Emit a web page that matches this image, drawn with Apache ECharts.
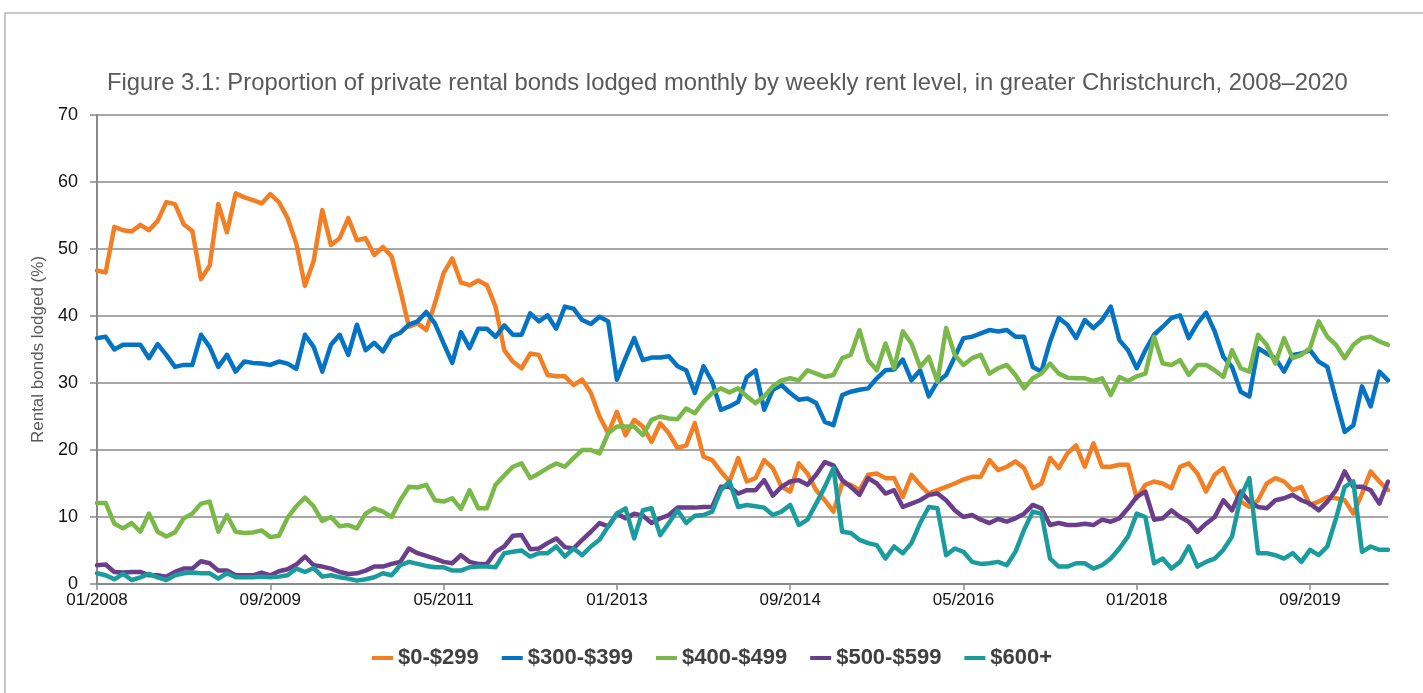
<!DOCTYPE html>
<html>
<head>
<meta charset="utf-8" />
<title>Figure 3.1</title>
<script src="https://cdn.jsdelivr.net/npm/echarts@6/dist/echarts.min.js"></script>
<style>
  html, body { margin: 0; padding: 0; background: #fff; }
  #frame {
    position: absolute; left: 4px; top: 12px; width: 1440px; height: 700px;
    border-left: 2px solid #c8c8c8; border-top: 2px solid #c8c8c8;
  }
  #chart { position: absolute; left: 0; top: 0; width: 1423px; height: 693px; }
</style>
</head>
<body>
<div id="frame"></div>
<div id="chart"></div>
<script>
// months 01/2008 .. 06/2020
var months = [];
for (var y = 2008; y <= 2020; y++) {
  for (var m = 1; m <= 12; m++) {
    if (y === 2020 && m > 6) break;
    months.push((m < 10 ? "0" + m : "" + m) + "/" + y);
  }
}

var seriesNames = ["$0-$299", "$300-$399", "$400-$499", "$500-$599", "$600+"];
var colors = ["#F37F24", "#0473C3", "#7BB84A", "#6B3E8C", "#1A9C9E"];

var rent0to299 = [
  46.8, 46.5, 53.3, 52.8, 52.6, 53.6, 52.8, 54.2, 57.0, 56.7, 53.7, 52.7, 45.5, 47.5, 56.7, 52.5, 58.3, 57.7, 57.3, 56.8,
  58.2, 57.0, 54.6, 50.8, 44.5, 48.2, 55.8, 50.6, 51.6, 54.6, 51.3, 51.6, 49.1, 50.3, 48.9, 43.9, 38.4, 38.9, 37.9, 41.9,
  46.4, 48.6, 45.0, 44.6, 45.3, 44.6, 41.4, 34.9, 33.2, 32.2, 34.4, 34.2, 31.2, 31.0, 31.0, 29.7, 30.5, 28.5, 25.0, 22.5,
  25.7, 22.2, 24.5, 23.5, 21.2, 24.0, 22.5, 20.3, 20.7, 24.0, 19.0, 18.5, 16.8, 15.3, 18.8, 15.3, 15.8, 18.5, 17.3, 14.5,
  13.8, 18.0, 16.5, 14.0, 12.5, 10.8, 15.0, 14.8, 14.0, 16.3, 16.5, 15.8, 15.8, 13.0, 16.3, 14.8, 13.5, 14.0, 14.5, 15.0,
  15.6, 16.0, 16.0, 18.5, 17.0, 17.5, 18.3, 17.3, 14.3, 15.0, 18.8, 17.3, 19.5, 20.7, 17.5, 21.0, 17.5, 17.5, 17.8, 17.8,
  12.8, 14.8, 15.3, 15.0, 14.3, 17.5, 18.0, 16.5, 13.8, 16.3, 17.3, 14.5, 12.3, 11.5, 12.5, 15.0, 15.8, 15.3, 14.0, 14.5,
  11.8, 12.3, 13.0, 12.8, 12.5, 10.5, 13.5, 16.8, 15.3, 14.0
];
var rent300to399 = [
  36.7, 36.9, 35.0, 35.7, 35.7, 35.7, 33.7, 35.8, 34.2, 32.4, 32.7, 32.7, 37.2, 35.4, 32.4, 34.2, 31.7, 33.2, 33.0, 32.9,
  32.7, 33.2, 32.9, 32.1, 37.2, 35.4, 31.7, 35.7, 37.2, 34.2, 38.7, 34.9, 36.0, 34.7, 36.9, 37.5, 38.7, 39.2, 40.6, 38.9,
  35.9, 33.0, 37.6, 35.2, 38.1, 38.1, 36.9, 38.6, 37.2, 37.2, 40.4, 39.2, 40.1, 38.1, 41.4, 41.1, 39.4, 38.8, 39.9, 39.2,
  30.5, 33.7, 36.7, 33.4, 33.8, 33.8, 34.0, 32.5, 31.9, 28.5, 32.5, 30.2, 26.0, 26.5, 27.2, 30.9, 31.9, 26.0, 29.0, 29.7,
  28.5, 27.5, 27.7, 27.0, 24.2, 23.7, 28.2, 28.7, 29.0, 29.2, 30.7, 31.9, 32.0, 33.5, 30.4, 31.9, 28.0, 30.2, 31.2, 33.9,
  36.7, 36.9, 37.4, 37.9, 37.7, 37.9, 36.9, 36.9, 32.4, 31.7, 36.2, 39.7, 38.7, 36.7, 39.4, 38.2, 39.4, 41.4, 36.4, 34.9,
  32.2, 34.9, 37.2, 38.4, 39.7, 40.1, 36.7, 38.9, 40.5, 37.7, 33.9, 32.4, 28.7, 28.0, 35.2, 34.4, 33.7, 31.7, 34.2, 34.4,
  34.9, 33.2, 32.4, 27.5, 22.7, 23.7, 29.5, 26.5, 31.7, 30.4
];
var rent400to499 = [
  12.1, 12.1, 9.0, 8.3, 9.1, 7.8, 10.5, 7.8, 7.1, 7.7, 9.8, 10.5, 12.0, 12.3, 7.8, 10.3, 7.8, 7.6, 7.7, 8.0,
  7.0, 7.2, 9.9, 11.6, 12.9, 11.6, 9.4, 10.0, 8.6, 8.8, 8.3, 10.5, 11.3, 10.8, 10.0, 12.5, 14.5, 14.4, 14.8, 12.5,
  12.3, 12.8, 11.2, 14.0, 11.3, 11.3, 14.8, 16.2, 17.5, 18.0, 15.8, 16.5, 17.3, 18.0, 17.5, 18.8, 20.0, 20.0, 19.5, 22.5,
  23.5, 23.5, 23.5, 22.2, 24.5, 25.0, 24.7, 24.6, 26.2, 25.5, 27.2, 28.5, 29.2, 28.6, 29.2, 28.0, 27.0, 28.0, 29.5, 30.4,
  30.7, 30.4, 31.9, 31.4, 30.9, 31.2, 33.7, 34.2, 37.9, 33.4, 31.9, 35.9, 32.2, 37.7, 35.9, 32.4, 33.9, 30.2, 38.2, 34.2,
  32.7, 33.7, 34.2, 31.4, 32.2, 32.7, 31.2, 29.2, 30.7, 31.4, 32.9, 31.4, 30.8, 30.7, 30.7, 30.3, 30.7, 28.2, 30.9, 30.3,
  31.0, 31.4, 36.9, 32.9, 32.7, 33.4, 31.2, 32.7, 32.7, 31.9, 30.9, 34.9, 32.2, 31.7, 37.2, 35.7, 32.9, 36.7, 33.7, 34.2,
  35.2, 39.2, 36.9, 35.7, 33.7, 35.7, 36.7, 36.9, 36.2, 35.7
];
var rent500to599 = [
  2.8, 2.9, 1.8, 1.7, 1.8, 1.8, 1.3, 1.3, 1.1, 1.8, 2.3, 2.3, 3.4, 3.1, 2.0, 2.0, 1.3, 1.3, 1.3, 1.7,
  1.3, 1.9, 2.2, 2.9, 4.1, 2.8, 2.6, 2.3, 1.8, 1.5, 1.6, 2.0, 2.6, 2.6, 3.0, 3.3, 5.3, 4.6, 4.2, 3.8,
  3.3, 3.1, 4.3, 3.3, 3.0, 3.0, 4.8, 5.6, 7.2, 7.3, 5.2, 5.3, 6.1, 6.8, 5.5, 5.3, 6.6, 7.8, 9.1, 8.6,
  10.5, 9.8, 10.5, 10.2, 9.1, 9.8, 10.3, 11.4, 11.4, 11.4, 11.5, 11.5, 14.5, 14.5, 13.5, 14.0, 14.0, 15.5, 13.2, 14.5,
  15.3, 15.5, 14.8, 16.3, 18.2, 17.7, 15.5, 14.5, 13.3, 15.8, 15.0, 13.5, 14.0, 11.5, 12.0, 12.5, 13.3, 13.5, 12.5, 11.0,
  10.0, 10.3, 9.6, 9.1, 9.7, 9.3, 9.8, 10.5, 11.8, 11.3, 8.8, 9.1, 8.8, 8.8, 9.0, 8.8, 9.6, 9.3, 9.8, 11.3,
  13.0, 13.8, 9.6, 9.8, 11.0, 10.0, 9.3, 7.8, 9.0, 10.0, 12.5, 11.0, 13.8, 12.3, 11.5, 11.3, 12.5, 12.8, 13.3, 12.5,
  12.0, 11.0, 12.3, 14.0, 16.8, 14.5, 14.5, 14.0, 12.0, 15.3
];
var rent600plus = [
  1.6, 1.3, 0.7, 1.5, 0.6, 1.0, 1.5, 1.0, 0.6, 1.3, 1.6, 1.7, 1.6, 1.6, 0.8, 1.6, 1.0, 1.0, 1.0, 1.1,
  1.0, 1.1, 1.3, 2.3, 1.8, 2.4, 1.1, 1.3, 1.0, 0.8, 0.5, 0.7, 1.0, 1.6, 1.3, 2.8, 3.3, 3.0, 2.7, 2.5,
  2.5, 2.0, 2.0, 2.5, 2.6, 2.6, 2.5, 4.6, 4.8, 5.0, 4.1, 4.6, 4.6, 5.6, 4.1, 5.3, 4.3, 5.6, 6.6, 8.6,
  10.5, 11.3, 6.8, 11.0, 11.3, 7.3, 9.1, 11.0, 9.1, 10.2, 10.3, 10.8, 14.0, 15.3, 11.5, 11.8, 11.6, 11.4, 10.3, 10.8,
  11.8, 8.8, 9.6, 12.0, 14.5, 17.3, 7.8, 7.6, 6.6, 6.1, 5.8, 3.8, 5.6, 4.6, 6.1, 9.1, 11.5, 11.3, 4.3, 5.3,
  4.8, 3.3, 3.0, 3.1, 3.3, 2.8, 4.8, 8.1, 10.8, 10.5, 3.8, 2.6, 2.6, 3.1, 3.1, 2.3, 2.8, 3.8, 5.3, 7.1,
  10.5, 10.0, 3.1, 3.8, 2.3, 3.3, 5.6, 2.6, 3.3, 3.8, 5.1, 7.1, 13.0, 15.8, 4.6, 4.6, 4.3, 3.8, 4.6, 3.3,
  5.1, 4.3, 5.6, 9.8, 14.5, 15.3, 4.8, 5.6, 5.1, 5.1
];

var yTicks = { min: 0, max: 70, interval: 10 };

var chart = echarts.init(document.getElementById("chart"), null, { renderer: "canvas" });

var allData = [rent0to299, rent300to399, rent400to499, rent500to599, rent600plus];

chart.setOption({
  animation: false,
  textStyle: { fontFamily: "Liberation Sans, Arial, sans-serif" },
  title: {
    text: "Figure 3.1: Proportion of private rental bonds lodged monthly by weekly rent level, in greater Christchurch, 2008\u20132020",
    left: 102,
    top: 66,
    textStyle: { fontSize: 23.8, fontWeight: "normal", color: "#595959" },
  },
  grid: { left: 97, right: 35, top: 115, bottom: 109 },
  legend: {
    bottom: 19,
    left: 367,
    icon: "rect",
    itemWidth: 21,
    itemHeight: 4,
    itemGap: 23,
    textStyle: { fontSize: 22, fontWeight: "bold", color: "#404040" },
    data: seriesNames,
  },
  xAxis: {
    type: "category",
    data: months,
    boundaryGap: false,
    axisLine: { lineStyle: { color: "#8a8a8a", width: 2 } },
    axisTick: { interval: 19, length: 6, lineStyle: { color: "#8a8a8a", width: 1.5 } },
    axisLabel: { interval: 19, fontSize: 17, color: "#111", margin: 8 },
  },
  yAxis: {
    type: "value",
    min: yTicks.min,
    max: yTicks.max,
    interval: yTicks.interval,
    name: "Rental bonds lodged (%)",
    nameLocation: "middle",
    nameGap: 46,
    nameTextStyle: { fontSize: 17, color: "#595959" },
    axisLine: { show: true, lineStyle: { color: "#8a8a8a", width: 2 } },
    axisTick: { show: true, length: 7, lineStyle: { color: "#8a8a8a", width: 1.5 } },
    axisLabel: { fontSize: 18, color: "#111", margin: 19 },
    splitLine: { lineStyle: { color: "#8a8a8a", width: 1.5 } },
  },
  series: allData.map(function (d, i) {
    return {
      name: seriesNames[i],
      type: "line",
      data: d,
      showSymbol: false,
      color: colors[i],
      lineStyle: { width: 4.5, color: colors[i], join: "round", cap: "round" },
    };
  }),
});
</script>
</body>
</html>
